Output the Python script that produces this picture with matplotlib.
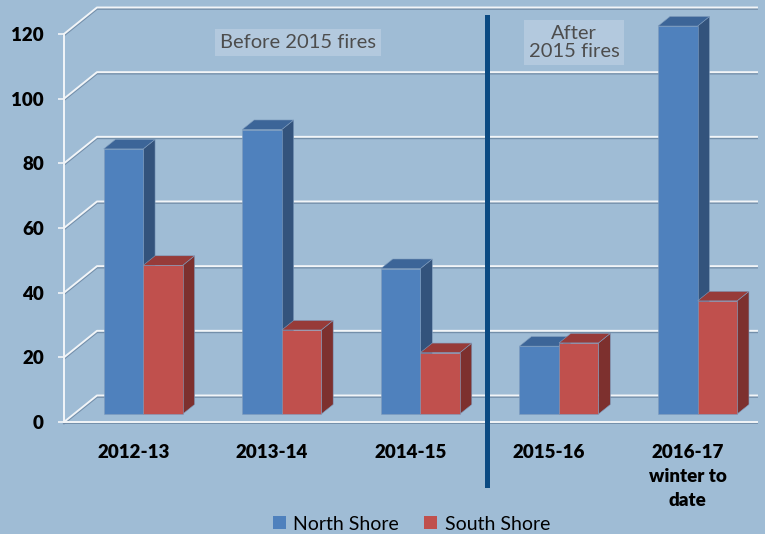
import matplotlib
matplotlib.use("Agg")
import matplotlib.pyplot as plt
import matplotlib.patheffects as pe
from matplotlib.patches import Polygon, Patch

# data
seasons = ["2012-13", "2013-14", "2014-15", "2015-16", "2016-17\nwinter to\ndate"]
north_shore = [82, 88, 45, 21, 120]
south_shore = [46, 26, 19, 22, 35]
y_ticks = [0, 20, 40, 60, 80, 100, 120]

bg = "#9fbcd5"
blue = ("#4f81bd", "#3c6598", "#33537c")   # front, top, side
red = ("#c0504d", "#973b39", "#7d302e")

# fake 3d: wall depth and bar placement (in data units)
DX, DY = 0.238, 8.2
F0, FD = 0.30, 0.36
bar_w = 0.285

fig = plt.figure(figsize=(7.65, 5.34), dpi=100, facecolor=bg)
ax = fig.add_axes([64 / 765, 112 / 534, 693 / 765, 388 / 534])
ax.set_facecolor("none")
ax.set_xlim(0, 5)
ax.set_ylim(0, 120)

grid_fx = [pe.SimpleLineShadow(offset=(0, -1), shadow_color="#6f8aa6", alpha=0.9), pe.Normal()]

# gridlines: short diagonal on the side wall + line on the back wall
for v in y_ticks:
    ax.plot([0, DX, 5], [v, v + DY, v + DY], color="#f2f5f8", lw=1.4,
            clip_on=False, path_effects=grid_fx, zorder=1)
# floor front edge
ax.plot([0, 5], [0, 0], color="#f2f5f8", lw=1.4, clip_on=False, path_effects=grid_fx, zorder=1)


def draw_bar(x0, h, cols):
    ox, oy = F0 * DX, F0 * DY
    bx, by = FD * DX, FD * DY
    x0 = x0 + ox
    front = [(x0, oy), (x0 + bar_w, oy), (x0 + bar_w, oy + h), (x0, oy + h)]
    top = [(x0, oy + h), (x0 + bar_w, oy + h), (x0 + bar_w + bx, oy + h + by), (x0 + bx, oy + h + by)]
    side = [(x0 + bar_w, oy), (x0 + bar_w + bx, oy + by), (x0 + bar_w + bx, oy + h + by), (x0 + bar_w, oy + h)]
    for pts, c in [(side, cols[2]), (top, cols[1]), (front, cols[0])]:
        ax.add_patch(Polygon(pts, closed=True, facecolor=c, edgecolor="#7f9cbd",
                             lw=0.4, zorder=3, clip_on=False))


for i in range(len(seasons)):
    draw_bar(i + 0.5 - bar_w, north_shore[i], blue)
    draw_bar(i + 0.5, south_shore[i], red)

# axes styling
for s in ["top", "right", "bottom"]:
    ax.spines[s].set_visible(False)
ax.spines["left"].set_color("#f2f5f8")
ax.spines["left"].set_linewidth(1.4)
ax.set_yticks(y_ticks)
ax.set_yticklabels([str(v) for v in y_ticks], fontfamily="Lato", fontweight="heavy", fontsize=13.5)
ax.tick_params(axis="y", direction="out", length=4.5, width=1.2, color="#f2f5f8", pad=10)
ax.set_xticks([i + 0.5 for i in range(len(seasons))])
ax.set_xticklabels(seasons, fontfamily="Lato", fontweight="heavy", fontsize=13.5, linespacing=1.5)
ax.tick_params(axis="x", length=0, pad=16)

# separator between before/after
ax.plot([3.05, 3.05], [-19.5, 125.3], color="#0b4a82", lw=3.6, clip_on=False, zorder=5)

box = dict(boxstyle="square,pad=0.25", facecolor="#b3c9de", edgecolor="none")
ax.text(1.685, 117.4, "Before 2015 fires", ha="center", va="center", fontsize=14.5,
        fontfamily="Lato", color="#4d4d4d", bbox=box, zorder=6)
ax.text(3.68, 117.4, "After\n2015 fires", ha="center", va="center", fontsize=14.5,
        fontfamily="Lato", color="#4d4d4d", bbox=box, zorder=6, linespacing=1.05)

handles = [Patch(facecolor=blue[0], label="North Shore"), Patch(facecolor=red[0], label="South Shore")]
fig.legend(handles=handles, loc="lower center", bbox_to_anchor=(0.538, -0.03), ncol=2,
           frameon=False, prop={"family": "Lato", "size": 14}, handlelength=0.65,
           handleheight=0.65, handletextpad=0.4, columnspacing=1.3)

fig.savefig("out.png", dpi=100, facecolor=bg)
